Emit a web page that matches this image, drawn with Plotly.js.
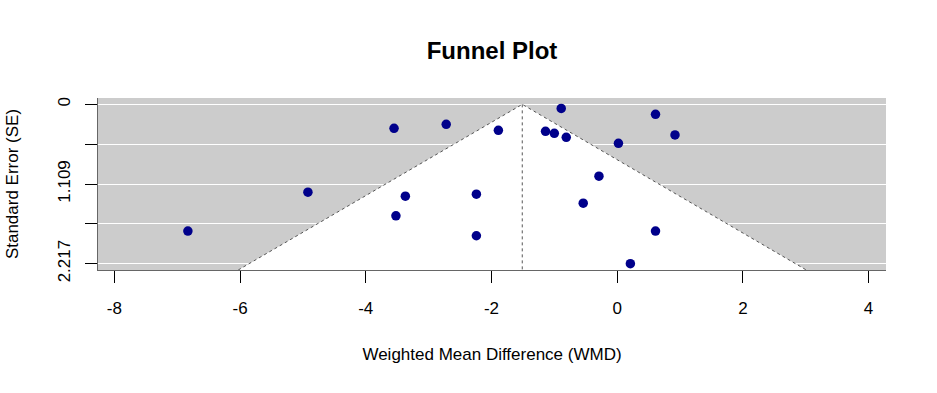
<!DOCTYPE html>
<html>
<head>
<meta charset="utf-8">
<script src="https://cdn.plot.ly/plotly-3.0.1.min.js"></script>
<style>html,body{margin:0;padding:0;background:#fff;}#chart{width:937px;height:393px;}</style>
</head>
<body>
<div id="chart"></div>
<script>
// Study-level data
const wmd = [-6.83, -4.92, -3.55, -2.72, -1.89, -3.37, -3.52, -2.24, -2.24, -0.89,
             -1.14, -1.00, -0.81, 0.02, -0.29, -0.54, 0.21, 0.61, 0.92, 0.61];
const se  = [1.764, 1.222, 0.333, 0.278, 0.361, 1.278, 1.551, 1.25, 1.829, 0.056,
             0.375, 0.403, 0.458, 0.542, 1.0, 1.375, 2.218, 0.139, 0.426, 1.764];

// Pooled estimate and funnel settings
const pooled = -1.51;
const zCrit = 1.96;
const seMax = 2.3057;

// Axis ticks
const xTicks = [-8, -6, -4, -2, 0, 2, 4];
const yTicks = [0, 0.55425, 1.1085, 1.66275, 2.217];
const yTickText = ['0', '', '1.109', '', '2.217'];

const font = 'Liberation Sans, Arial, sans-serif';

const funnelX = [pooled - zCrit * seMax, pooled, pooled + zCrit * seMax];
const funnelY = [seMax, 0, seMax];

const traces = [
  { x: funnelX, y: funnelY, type: 'scatter', mode: 'lines', fill: 'toself',
    fillcolor: '#ffffff', line: {color: 'rgba(0,0,0,0)', width: 0}, hoverinfo: 'skip', showlegend: false },
  { x: funnelX, y: funnelY, type: 'scatter', mode: 'lines',
    line: {color: '#555555', width: 1, dash: 'dot'}, hoverinfo: 'skip', showlegend: false },
  { x: [pooled, pooled], y: [0, seMax], type: 'scatter', mode: 'lines',
    line: {color: '#555555', width: 1, dash: 'dot'}, hoverinfo: 'skip', showlegend: false },
  { x: wmd, y: se, type: 'scatter', mode: 'markers',
    marker: {color: '#00008B', size: 9.5}, showlegend: false }
];

const layout = {
  width: 937, height: 393,
  margin: {l: 98, r: 51, t: 98, b: 123},
  paper_bgcolor: '#ffffff',
  plot_bgcolor: '#cccccc',
  font: {family: font, size: 17, color: '#000'},
  title: {text: '<b>Funnel Plot</b>', font: {family: font, size: 24, color: '#000'},
          x: 0.5, xref: 'paper', y: 1 - 51/393, yref: 'container', yanchor: 'middle'},
  xaxis: {
    range: [-8.26, 4.277], tickvals: xTicks, ticktext: xTicks.map(String),
    ticks: 'outside', ticklen: 12, tickcolor: '#000', tickwidth: 1,
    showline: true, linecolor: '#666666', linewidth: 1,
    showgrid: false, zeroline: false, ticklabelstandoff: 11,
    title: {text: 'Weighted Mean Difference (WMD)', font: {family: font, size: 17}, standoff: 30}
  },
  yaxis: {
    range: [seMax, -0.0887], tickvals: yTicks, ticktext: yTickText, tickangle: -90,
    ticks: 'outside', ticklen: 12, tickcolor: '#000', tickwidth: 1,
    showline: true, linecolor: '#666666', linewidth: 1,
    showgrid: true, gridcolor: '#ffffff', gridwidth: 1, zeroline: false, ticklabelstandoff: 8,
    title: {text: 'Standard Error (SE)', font: {family: font, size: 17}, standoff: 32}
  }
};

Plotly.newPlot('chart', traces, layout, {displayModeBar: false, staticPlot: true});
</script>
</body>
</html>
